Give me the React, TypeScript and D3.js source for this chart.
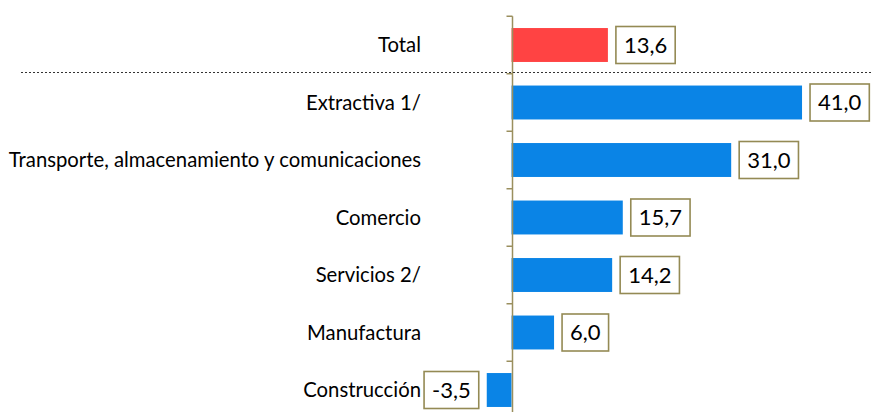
import React, { useEffect, useRef } from "react";
import * as d3 from "d3";

const categories = [
  "Total",
  "Extractiva 1/",
  "Transporte, almacenamiento y comunicaciones",
  "Comercio",
  "Servicios 2/",
  "Manufactura",
  "Construcción",
];
const values = [13.6, 41.0, 31.0, 15.7, 14.2, 6.0, -3.5];
const barColors = ["#ff4343", "#0a84e6", "#0a84e6", "#0a84e6", "#0a84e6", "#0a84e6", "#0a84e6"];

const W = 871;
const H = 412;
const FONT = "Lato, 'Open Sans', sans-serif";

export default function App() {
  const ref = useRef<SVGSVGElement>(null);

  useEffect(() => {
    const svg = d3.select(ref.current);
    svg.selectAll("*").remove();

    const x = d3.scaleLinear().domain([-10, 50]).range([440.7, 865.8]);
    const y = d3
      .scaleBand<string>()
      .domain(categories)
      .range([16.25, 418.75])
      .paddingInner(0.41)
      .paddingOuter(0.205);

    const x0 = Math.round(x(0)) + 0.5;
    const step = y.step();
    const top = 16.25;

    // bars
    svg
      .append("g")
      .selectAll("rect")
      .data(values)
      .join("rect")
      .attr("x", (d) => Math.min(x(d), x(0)))
      .attr("width", (d) => Math.abs(x(d) - x(0)))
      .attr("y", (_, i) => y(categories[i])!)
      .attr("height", y.bandwidth())
      .attr("fill", (_, i) => barColors[i]);

    // axis line + ticks
    const axisColor = "#9a8f5e";
    svg
      .append("line")
      .attr("x1", x0)
      .attr("x2", x0)
      .attr("y1", top)
      .attr("y2", H + 10)
      .attr("stroke", axisColor)
      .attr("stroke-width", 1.5);
    svg
      .append("g")
      .selectAll("line")
      .data(d3.range(categories.length + 1))
      .join("line")
      .attr("x1", x0 - 6)
      .attr("x2", x0)
      .attr("y1", (i) => top + i * step)
      .attr("y2", (i) => top + i * step)
      .attr("stroke", axisColor)
      .attr("stroke-width", 1.5);

    // dotted separator
    svg
      .append("line")
      .attr("x1", 21)
      .attr("x2", W)
      .attr("y1", 72.5)
      .attr("y2", 72.5)
      .attr("stroke", "#333")
      .attr("stroke-width", 1)
      .attr("stroke-dasharray", "2,2");

    // category labels
    svg
      .append("g")
      .selectAll("text")
      .data(categories)
      .join("text")
      .attr("x", 421)
      .attr("y", (d) => y(d)! + y.bandwidth() / 2)
      .attr("dy", "0.35em")
      .attr("text-anchor", "end")
      .attr("font-family", FONT)
      .attr("font-size", 20.3)
      .attr("fill", "#000")
      .text((d) => d);

    // value boxes
    const fmt = (v: number) => v.toFixed(1).replace(".", ",");
    const g = svg.append("g");
    values.forEach((v, i) => {
      const cy = y(categories[i])! + y.bandwidth() / 2;
      const lg = g.append("g");
      const rect = lg
        .append("rect")
        .attr("fill", "#fff")
        .attr("stroke", "#948a54")
        .attr("stroke-width", 1.6);
      const t = lg
        .append("text")
        .attr("text-anchor", "middle")
        .attr("dy", "0.35em")
        .attr("font-family", FONT)
        .attr("font-size", 22)
        .attr("fill", "#000")
        .text(fmt(v));
      const tw = (t.node() as SVGTextElement).getComputedTextLength();
      const bw = tw + 16;
      const bh = 37;
      const bx = v >= 0 ? x(v) + 8 : x(v) - 8 - bw;
      rect.attr("x", bx).attr("y", cy - bh / 2).attr("width", bw).attr("height", bh);
      t.attr("x", bx + bw / 2).attr("y", cy);
    });
  }, []);

  return (
    <svg
      ref={ref}
      width={W}
      height={H}
      style={{ position: "absolute", left: 0, top: 0, background: "#fff" }}
    />
  );
}
